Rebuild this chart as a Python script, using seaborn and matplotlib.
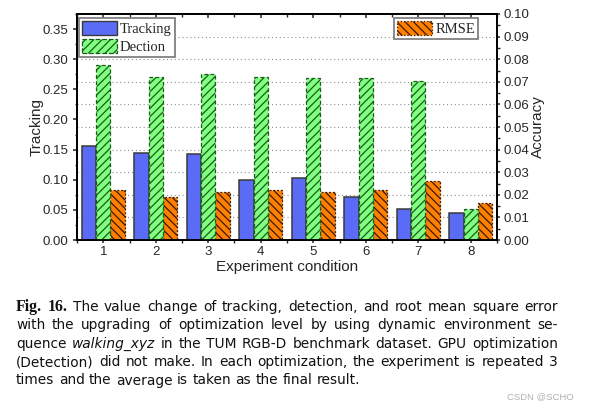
import numpy as np
import pandas as pd
import seaborn as sns
import matplotlib.pyplot as plt
from matplotlib.patches import Patch
from matplotlib.ticker import FormatStrFormatter, MultipleLocator, FixedLocator

# values
conditions = ['1', '2', '3', '4', '5', '6', '7', '8']
tracking = [0.156, 0.144, 0.143, 0.100, 0.103, 0.071, 0.051, 0.045]   # left axis
dection = [0.290, 0.271, 0.275, 0.270, 0.269, 0.269, 0.263, 0.051]    # left axis
rmse = [0.0220, 0.0192, 0.0211, 0.0220, 0.0211, 0.0220, 0.0261, 0.0162]  # right axis

series_order = ['Tracking', 'Dection', 'RMSE']
colors = {'Tracking': '#5a6cf5', 'Dection': '#80ff80', 'RMSE': '#ff8000'}

captionLines = [
    "Fig. 16. The value change of tracking, detection, and root mean square error",
    "with the upgrading of optimization level by using dynamic environment se-",
    "quence walking_xyz in the TUM RGB-D benchmark dataset. GPU optimization",
    "(Detection) did not make. In each optimization, the experiment is repeated 3",
    "times and the average is taken as the final result.",
]

df = pd.DataFrame({
    'condition': conditions * 3,
    'series': ['Tracking'] * 8 + ['Dection'] * 8 + ['RMSE'] * 8,
    'value': tracking + dection + rmse,
})

sns.set_style('ticks')
plt.rcParams['font.family'] = ['Liberation Sans', 'DejaVu Sans']
plt.rcParams['hatch.color'] = 'black'
plt.rcParams['hatch.linewidth'] = 0.9

fig = plt.figure(figsize=(5.9, 4.09), dpi=100)
W, H = 590, 409
ax = fig.add_axes([77 / W, 1 - 240 / H, 420 / W, 226 / H])
ax2 = ax.twinx()

# one grouped barplot so seaborn does the dodging for all three series
sns.barplot(data=df, x='condition', y='value', hue='series', hue_order=series_order,
            order=conditions, palette=colors, saturation=1, width=0.82, errorbar=None,
            legend=False, ax=ax)
trackBars, dectBars, rmseBars = [list(c) for c in ax.containers[:3]]

for bar in trackBars:
    bar.set_edgecolor('#3a3a3a')
    bar.set_linewidth(1.1)
for bar in dectBars:
    bar.set_hatch('////')
    bar.set_edgecolor('#1a5a1a')
    bar.set_linestyle((0, (3, 2)))
    bar.set_linewidth(0.9)
# RMSE belongs to the right axis: hand its bars over to ax2 (heights read in ax2 units)
for bar in rmseBars:
    bar.remove()
    bar.set_transform(ax2.transData)
    ax2.add_patch(bar)
    bar.set_hatch('\\\\\\\\')
    bar.set_edgecolor('#3a1a00')
    bar.set_linestyle((0, (1.5, 1.5)))
    bar.set_linewidth(0.9)

# right axis (grid + RMSE) sits underneath the left one
ax.set_zorder(2)
ax2.set_zorder(1)
ax.patch.set_visible(False)
ax2.patch.set_visible(True)
ax2.patch.set_facecolor('white')

ax.set_xlim(-0.5, 7.5)
ax.set_ylim(0, 0.375)
ax2.set_ylim(0, 0.10)
ax.yaxis.set_major_locator(MultipleLocator(0.05))
ax.yaxis.set_minor_locator(MultipleLocator(0.025))
ax.yaxis.set_major_formatter(FormatStrFormatter('%.2f'))
ax2.yaxis.set_major_locator(MultipleLocator(0.01))
ax2.yaxis.set_minor_locator(MultipleLocator(0.005))
ax2.yaxis.set_major_formatter(FormatStrFormatter('%.2f'))
ax.set_xticks(range(len(conditions)))
ax.set_xticklabels(conditions)
ax.xaxis.set_minor_locator(FixedLocator(np.arange(-0.5, 8, 1.0)))

ax.tick_params(axis='y', which='major', labelsize=9.5, length=3, pad=3, width=1.1, direction='out')
ax.tick_params(axis='x', which='major', labelsize=9.5, length=2.5, pad=2, width=1.1, direction='out')
ax.tick_params(axis='both', which='minor', length=1.8, width=1.0, direction='out')
ax2.tick_params(axis='y', which='major', labelsize=9.5, length=2.5, pad=2, width=1.1, direction='out')
ax2.tick_params(axis='y', which='minor', length=1.8, width=1.0, direction='out')

top = ax.secondary_xaxis('top')
top.set_xticks(range(len(conditions)))
top.set_xticklabels([])
top.xaxis.set_minor_locator(FixedLocator(np.arange(-0.5, 8, 1.0)))
top.tick_params(which='major', direction='in', length=3, width=1.1)
top.tick_params(which='minor', direction='in', length=1.8, width=1.0)

# dotted grid from the right axis, behind every bar
ax2.set_axisbelow(True)
ax2.yaxis.grid(True, linestyle=(0, (1, 2.5)), color='#909090', linewidth=0.8)
ax2.xaxis.grid(False)
ax.grid(False)

for a in (ax, ax2):
    for s in a.spines.values():
        s.set_visible(True)
        s.set_linewidth(1.3)
        s.set_color('black')
top.spines['top'].set_linewidth(1.3)

ax.set_xlabel('Experiment condition', fontsize=11, labelpad=1.5)
ax.set_ylabel('Tracking', fontsize=11, labelpad=-0.5)
ax2.set_ylabel('Accuracy', fontsize=11, labelpad=1.5)

# legends
serif = ['Liberation Serif', 'DejaVu Serif']
h_track = Patch(facecolor=colors['Tracking'], edgecolor='#3a3a3a', linewidth=1.0)
h_dect = Patch(facecolor=colors['Dection'], edgecolor='#1a5a1a', hatch='////', linestyle='--', linewidth=0.9)
h_rmse = Patch(facecolor=colors['RMSE'], edgecolor='#3a1a00', hatch='\\\\\\\\', linestyle=':', linewidth=0.9)
legKw = dict(prop={'family': serif, 'size': 10.5}, frameon=True, fancybox=False, framealpha=1,
             edgecolor='#808080', handlelength=2.4, handleheight=1.1, handletextpad=0.2,
             labelspacing=0.2, borderpad=0.2, borderaxespad=0)
leg1 = ax.legend([h_track, h_dect], ['Tracking', 'Dection'], loc='upper left',
                 bbox_to_anchor=(2 / 420, 1 - 4 / 226), **legKw)
leg1.get_frame().set_linewidth(1.3)
leg2 = ax.legend([h_rmse], ['RMSE'], loc='upper right',
                 bbox_to_anchor=((478 - 77) / 420, 1 - 4 / 226), **legKw)
leg2.get_frame().set_linewidth(1.3)
ax.add_artist(leg1)

# caption below the chart, justified
capFamily = ['DejaVu Sans']
capSize = 9.9
left, right = 16, 558
baselines = [311, 329.2, 347.6, 366, 384.5]
renderer = fig.canvas.get_renderer()
probeA = fig.text(0, 0, 'x x', fontsize=capSize, family=capFamily)
probeB = fig.text(0, 0, 'xx', fontsize=capSize, family=capFamily)
spaceW = probeA.get_window_extent(renderer).width - probeB.get_window_extent(renderer).width
probeA.remove()
probeB.remove()
for i, line in enumerate(captionLines):
    words = line.split()
    texts = []
    for j, w in enumerate(words):
        bold = i == 0 and j < 2
        style = 'italic' if w == 'walking_xyz' else 'normal'
        fam = ['Liberation Serif', 'DejaVu Serif'] if bold else capFamily
        texts.append(fig.text(0, 0, w, fontsize=capSize + (1.5 if bold else 0), family=fam,
                              weight='bold' if bold else 'normal', style=style,
                              va='baseline', ha='left', color='#111111'))
    widths = [t.get_window_extent(renderer).width for t in texts]
    if i < len(captionLines) - 1:
        gap = (right - left - sum(widths)) / (len(words) - 1)
    else:
        gap = spaceW
    x = left
    for t, w in zip(texts, widths):
        t.set_position((x / W, 1 - baselines[i] / H))
        x += w + gap

fig.text(574 / W, 1 - 399 / H, 'CSDN @SCHO', fontsize=6.8, color='#b0b0b0',
         ha='right', va='baseline')

fig.savefig('out.png', dpi=100)
